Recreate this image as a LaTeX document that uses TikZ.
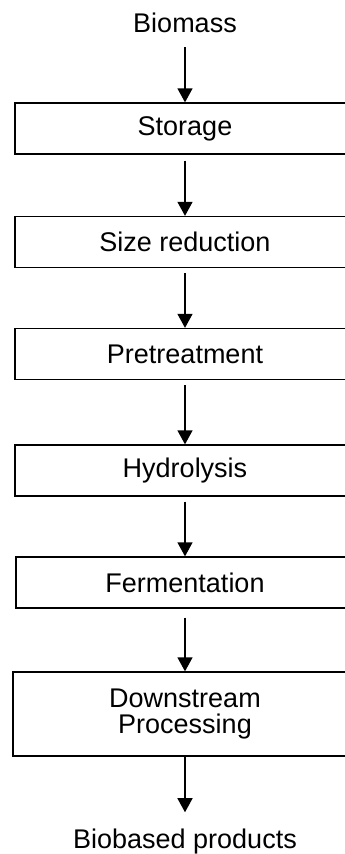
\documentclass[tikz,border=0pt]{standalone}
\usepackage{fontspec}
\setmainfont{Liberation Sans}
\usetikzlibrary{arrows.meta}
\begin{document}
\begin{tikzpicture}[x=1pt, y=-1pt,
  font=\fontsize{27}{26.6}\selectfont,
  stage/.style={draw, line width=1.3pt, minimum width=340pt, minimum height=51pt, align=center, inner sep=0pt},
  flow/.style={line width=1.3pt, -{Triangle[width=15pt, length=14pt]}}]
\useasboundingbox (0,0) rectangle (345,854);
\clip (0,0) rectangle (345,854);

\node[anchor=base, inner sep=0pt] (biomass) at (185, 32) {Biomass};
\node[stage] (storage) at (185, 128.5) {Storage};
\node[stage] (size) at (185, 242) {Size reduction};
\node[stage] (pretreat) at (185, 354) {Pretreatment};
\node[stage] (hydro) at (185, 470.5) {Hydrolysis};
\node[stage, minimum width=338pt] (ferment) at (185, 582.5) {Fermentation};
\node[stage, minimum width=344pt, minimum height=84pt] (downstream) at (185, 714) {Downstream\\Processing};
\node[anchor=base, inner sep=0pt] (products) at (185, 848) {Biobased products};

\draw[flow] ([yshift=-15pt]biomass.south) -- (storage.north);
\draw[flow] ([yshift=-6pt]storage.south) -- (size.north);
\draw[flow] ([yshift=-5pt]size.south) -- (pretreat.north);
\draw[flow] ([yshift=-5pt]pretreat.south) -- (hydro.north);
\draw[flow] ([yshift=-5pt]hydro.south) -- (ferment.north);
\draw[flow] ([yshift=-9pt]ferment.south) -- (downstream.north);
\draw[flow] (downstream.south) -- ([yshift=16pt]products.north);
\end{tikzpicture}
\end{document}
